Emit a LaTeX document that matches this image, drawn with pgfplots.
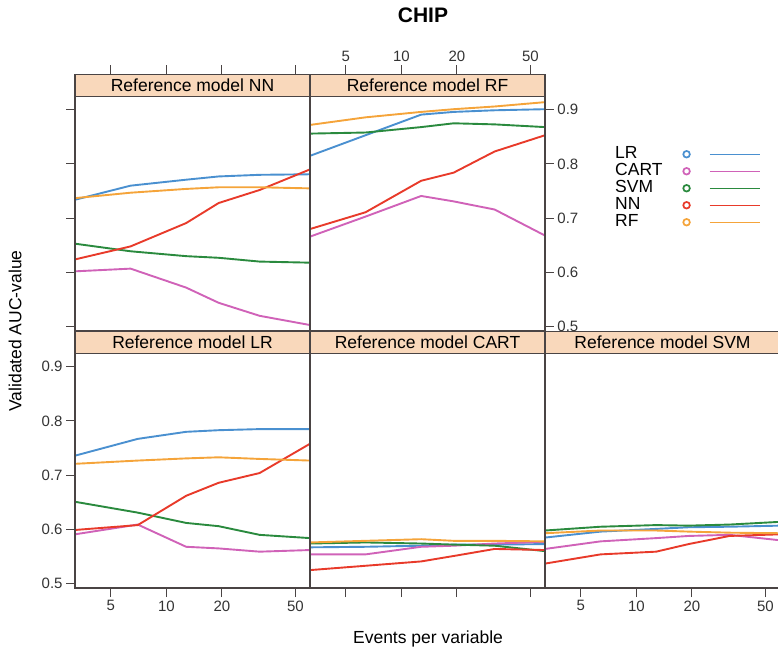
\documentclass[border=0pt]{standalone}
\usepackage{fontspec}
\setmainfont{Liberation Sans}
\usepackage{pgfplots}
\usepackage{pgfplotstable}
\pgfplotsset{compat=1.18}

\definecolor{cLR}{HTML}{4A90D0}
\definecolor{cCART}{HTML}{D062B8}
\definecolor{cSVM}{HTML}{2A8A3E}
\definecolor{cNN}{HTML}{E83A2A}
\definecolor{cRF}{HTML}{F5A43A}
\definecolor{stripcol}{HTML}{F9D8BB}
\definecolor{axcol}{HTML}{4A4444}

% columns: events per variable, then AUC of LR, CART, SVM, NN, RF
\pgfplotstableread{
x    LR    CART  SVM   NN    RF
3.2  0.734 0.602 0.653 0.624 0.737
6.4  0.760 0.607 0.639 0.648 0.747
12.8 0.771 0.572 0.630 0.691 0.754
19.2 0.777 0.544 0.627 0.728 0.757
32   0.780 0.520 0.620 0.752 0.757
60   0.781 0.503 0.618 0.790 0.755
}\refNN
\pgfplotstableread{
x    LR    CART  SVM   NN    RF
3.2  0.815 0.666 0.856 0.680 0.872
6.4  0.853 0.703 0.858 0.711 0.886
12.8 0.891 0.741 0.868 0.769 0.896
19.2 0.896 0.731 0.875 0.784 0.901
32   0.899 0.716 0.873 0.823 0.906
60   0.901 0.668 0.868 0.853 0.914
}\refRF
\pgfplotstableread{
x    LR    CART  SVM   NN    RF
3.2  0.736 0.591 0.651 0.599 0.721
7    0.767 0.609 0.631 0.608 0.727
12.8 0.780 0.568 0.612 0.662 0.731
19.2 0.783 0.565 0.606 0.686 0.733
32   0.785 0.559 0.590 0.704 0.730
60   0.785 0.562 0.584 0.758 0.727
}\refLR
\pgfplotstableread{
x    LR    CART  SVM   NN    RF
3.2  0.567 0.554 0.574 0.525 0.576
6.4  0.568 0.554 0.576 0.533 0.579
12.8 0.570 0.568 0.574 0.541 0.582
19.2 0.572 0.570 0.572 0.551 0.579
32   0.572 0.574 0.570 0.564 0.579
60   0.573 0.577 0.560 0.562 0.578
}\refCART
\pgfplotstableread{
x    LR    CART  SVM   NN    RF
3.2  0.585 0.564 0.598 0.537 0.593
6.4  0.596 0.578 0.605 0.554 0.598
12.8 0.601 0.584 0.608 0.559 0.598
19.2 0.604 0.588 0.607 0.573 0.596
32   0.605 0.590 0.609 0.588 0.594
60   0.607 0.580 0.614 0.591 0.593
}\refSVM

\pgfplotsset{
  latpanel/.style={
    anchor=south west,
    scale only axis, width=235pt, height=256.5pt,
    xmin=3.2, xmax=60,
    ymin=0.492, ymax=0.965,
    xtick={5,10,20,50}, xticklabels={5,10,20,50},
    ytick={0.5,0.6,0.7,0.8,0.9}, yticklabels={0.5,0.6,0.7,0.8,0.9},
    tick align=outside, major tick length=9pt,
    minor tick num=0, axis on top,
    axis line style={axcol, line width=1.3pt},
    every tick/.style={axcol, line width=1pt},
    tick label style={font=\fontsize{15}{17}\selectfont, text=black!80},
    every axis plot/.append style={line width=1.9pt, mark=none},
    legend image code/.code={
      \path[draw=none, fill=none] (0pt,0pt) circle (0.01pt);
      \draw[mark=o, mark size=3.3pt, line width=1.7pt] plot coordinates {(24pt,0pt)};
      \draw[line width=1pt] (47pt,0pt) -- (97pt,0pt);
    },
    extra description/.code={
      \fill[stripcol] (rel axis cs:0,0.914) rectangle (rel axis cs:1,1);
      \draw[axcol, line width=1.3pt] (rel axis cs:0,0.914) -- (rel axis cs:1,0.914);
      \draw[axcol, line width=1.3pt] (rel axis cs:0,0) rectangle (rel axis cs:1,1);
      \node[font=\fontsize{17.5}{19}\selectfont] at (rel axis cs:0.5,0.957) {#1};
    },
  },
}

\newcommand\fivelines[1]{%
  \addplot[cLR]   table[x=x, y=LR]   {#1};
  \addplot[cCART] table[x=x, y=CART] {#1};
  \addplot[cSVM]  table[x=x, y=SVM]  {#1};
  \addplot[cNN]   table[x=x, y=NN]   {#1};
  \addplot[cRF]   table[x=x, y=RF]   {#1};
}

\begin{document}
\begin{tikzpicture}
\useasboundingbox (0pt,0pt) rectangle (778pt,653pt);

% top row
\begin{semilogxaxis}[latpanel={Reference model NN}, at={(75pt,322pt)},
  xtick pos=right, xticklabels={},
  ytick pos=left, yticklabels={}]
  \fivelines{\refNN}
\end{semilogxaxis}

\begin{semilogxaxis}[latpanel={Reference model RF}, at={(310pt,322pt)},
  xtick pos=right, xticklabel pos=right,
  ytick pos=right, yticklabel pos=right,
  legend plot pos=right,
  legend style={at={(1.298,0.723)}, anchor=north west, draw=none, fill=none,
    inner sep=0pt, column sep=0pt, row sep=0pt,
    font=\fontsize{17.5}{17}\selectfont,
    nodes={inner sep=0pt, text height=12.5pt, text depth=4.5pt}},
  legend cell align=left]
  \fivelines{\refRF}
  \legend{LR,CART,SVM,NN,RF}
\end{semilogxaxis}

% bottom row
\begin{semilogxaxis}[latpanel={Reference model LR}, at={(75pt,65pt)},
  xtick pos=left, ytick pos=left]
  \fivelines{\refLR}
\end{semilogxaxis}

\begin{semilogxaxis}[latpanel={Reference model CART}, at={(310pt,65pt)},
  xtick pos=left, xticklabels={}, ytick=\empty]
  \fivelines{\refCART}
\end{semilogxaxis}

\begin{semilogxaxis}[latpanel={Reference model SVM}, at={(545pt,65pt)},
  xtick pos=left, ytick=\empty]
  \fivelines{\refSVM}
\end{semilogxaxis}

\node[font=\bfseries\fontsize{21}{24}\selectfont] at (423pt,638pt) {CHIP};
\node[font=\fontsize{17.5}{19}\selectfont] at (428pt,14pt) {Events per variable};
\node[font=\fontsize{17.5}{19}\selectfont, rotate=90] at (15pt,322pt) {Validated AUC-value};
\end{tikzpicture}
\end{document}
